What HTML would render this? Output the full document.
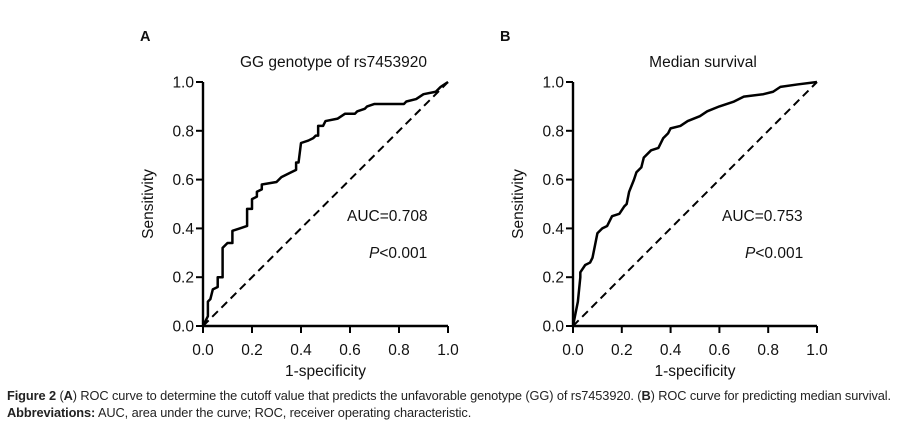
<!DOCTYPE html>
<html><head><meta charset="utf-8"><style>
body{margin:0;background:#fff;width:919px;height:429px;overflow:hidden;font-family:"Liberation Sans",Arial,sans-serif}
svg text{font-family:"Liberation Sans",Arial,sans-serif;fill:#111}
.cap{position:absolute;left:7px;font-size:12.8px;color:#222;white-space:nowrap;letter-spacing:-0.1px}
</style></head><body>
<svg id="s" width="919" height="429" style="position:absolute;left:0;top:0"></svg>
<div class="cap" style="top:388px"><b>Figure 2</b> (<b>A</b>) ROC curve to determine the cutoff value that predicts the unfavorable genotype (GG) of rs7453920. (<b>B</b>) ROC curve for predicting median survival.</div>
<div class="cap" style="top:405px"><b>Abbreviations:</b> AUC, area under the curve; ROC, receiver operating characteristic.</div>
<script>
const ticks=[0,0.2,0.4,0.6,0.8,1.0];
const tickLabels=["0.0","0.2","0.4","0.6","0.8","1.0"];
const fprA=[0,0.02,0.02,0.03,0.04,0.06,0.06,0.08,0.08,0.1,0.12,0.12,0.15,0.18,0.18,0.2,0.2,0.22,0.22,0.24,0.24,0.3,0.32,0.36,0.38,0.38,0.39,0.4,0.43,0.45,0.46,0.47,0.47,0.49,0.5,0.55,0.58,0.62,0.63,0.66,0.67,0.7,0.82,0.83,0.87,0.9,0.95,0.97,1];
const tprA=[0,0.04,0.1,0.11,0.15,0.16,0.2,0.2,0.32,0.34,0.34,0.39,0.4,0.41,0.48,0.48,0.52,0.53,0.55,0.56,0.58,0.59,0.61,0.63,0.64,0.67,0.67,0.75,0.76,0.77,0.78,0.78,0.82,0.82,0.84,0.85,0.87,0.87,0.88,0.89,0.9,0.91,0.91,0.92,0.93,0.95,0.96,0.98,1];
const fprB=[0,0.01,0.02,0.03,0.03,0.05,0.07,0.08,0.09,0.1,0.12,0.14,0.16,0.19,0.21,0.22,0.23,0.25,0.26,0.28,0.29,0.32,0.35,0.37,0.39,0.4,0.44,0.47,0.52,0.55,0.6,0.66,0.7,0.78,0.82,0.85,0.92,1];
const tprB=[0,0.05,0.1,0.2,0.22,0.25,0.26,0.28,0.33,0.38,0.4,0.41,0.45,0.46,0.49,0.5,0.55,0.6,0.63,0.65,0.69,0.72,0.73,0.77,0.79,0.81,0.82,0.84,0.86,0.88,0.9,0.92,0.94,0.95,0.96,0.98,0.99,1];
const svg=document.getElementById('s');const NS='http://www.w3.org/2000/svg';
function mk(t,a,txt){const e=document.createElementNS(NS,t);for(const k in a)e.setAttribute(k,a[k]);if(txt!==undefined)e.textContent=txt;svg.appendChild(e);return e;}
function panel(p){
 const X=v=>p.x0+v*(p.x1-p.x0),Y=v=>326-v*244;
 let e=mk('text',{x:p.lx,y:41,'font-size':14.5,'font-weight':'bold'},p.letter);
 
 
 e=mk('text',{x:(p.x0+p.x1)/2+8,y:67,'font-size':15.5,'text-anchor':'middle'},p.title);
 
 
 e=mk('path',{d:`M${p.x0} ${Y(1)}V326H${p.x1}`,stroke:'#000','stroke-width':2.4,fill:'none'});
 
 
 ticks.forEach((t,i)=>{
  mk('line',{x1:X(t),x2:X(t),y1:326,y2:333,stroke:'#000','stroke-width':2});
  mk('line',{x1:p.x0-7,x2:p.x0,y1:Y(t),y2:Y(t),stroke:'#000','stroke-width':2});
  e=mk('text',{x:X(t),y:355,'font-size':15.5,'text-anchor':'middle'},tickLabels[i]);
  
  
  e=mk('text',{x:p.x0-9,y:Y(t)+5.5,'font-size':15.5,'text-anchor':'end'},tickLabels[i]);
  
  
 });
 e=mk('text',{x:(p.x0+p.x1)/2,y:376,'font-size':15.5,'text-anchor':'middle'},'1-specificity');
 
 
 e=mk('text',{x:0,y:0,'font-size':15.5,'text-anchor':'middle',transform:`translate(${p.x0-50},204) rotate(-90)`},'Sensitivity');
 
 
 e=mk('line',{x1:X(0),y1:Y(0),x2:X(1),y2:Y(1),stroke:'#000','stroke-width':2,'stroke-dasharray':'8,5'});
 
 
 e=mk('polyline',{points:p.fx.map((v,i)=>X(v)+','+Y(p.ty[i])).join(' '),stroke:'#000','stroke-width':2.5,fill:'none','stroke-linejoin':'round'});
 
 
 e=mk('text',{x:p.ax,y:221,'font-size':15.5},'AUC='+p.auc);
 
 
 e=mk('text',{x:p.px,y:258,'font-size':15.5});
 e.innerHTML='<tspan font-style="italic">P</tspan>&lt;0.001';
 
 
}
panel({id:'a',letter:'A',lx:140,title:'GG genotype of rs7453920',x0:203,x1:448,fx:fprA,ty:tprA,auc:'0.708',ax:347,px:369});
panel({id:'b',letter:'B',lx:500,title:'Median survival',x0:573,x1:817,fx:fprB,ty:tprB,auc:'0.753',ax:722,px:745});
</script>
</body></html>
